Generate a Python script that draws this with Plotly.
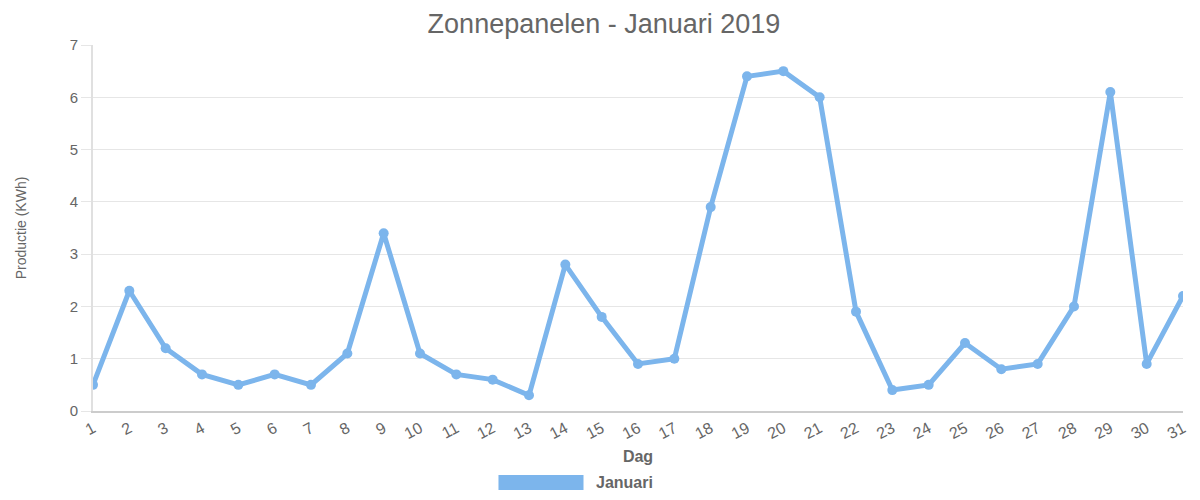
import plotly.graph_objects as go

days = [str(d) for d in range(1, 32)]
production = [0.5, 2.3, 1.2, 0.7, 0.5, 0.7, 0.5, 1.1, 3.4, 1.1,
              0.7, 0.6, 0.3, 2.8, 1.8, 0.9, 1.0, 3.9, 6.4, 6.5,
              6.0, 1.9, 0.4, 0.5, 1.3, 0.8, 0.9, 2.0, 6.1, 0.9, 2.2]
series_name = "Januari"
title_text = "Zonnepanelen - Januari 2019"
x_title = "Dag"
y_title = "Productie (KWh)"

line_color = "rgb(124,181,236)"
text_color = "#666666"
font_family = "Liberation Sans, Arial, sans-serif"

fig = go.Figure()
fig.add_trace(go.Scatter(
    x=days, y=production, mode="lines+markers", name=series_name,
    line=dict(color=line_color, width=5),
    marker=dict(color=line_color, size=10),
    showlegend=False,
))

fig.update_layout(
    width=1192, height=484,
    margin=dict(l=82, r=14, t=37, b=81),
    paper_bgcolor="white", plot_bgcolor="white",
    font=dict(family=font_family, color=text_color, size=14),
    title=dict(text=title_text, x=0.5, xanchor="center", y=0.968, yanchor="middle",
               font=dict(size=27, color=text_color)),
    xaxis=dict(
        type="category", range=[0, 30], tickangle=-28,
        showgrid=False, showline=True, linecolor="#cccccc", linewidth=2,
        ticks="", tickfont=dict(size=16, color=text_color),
        title=dict(text="<b>" + x_title + "</b>", font=dict(size=16, color=text_color), standoff=10),
        zeroline=False,
    ),
    yaxis=dict(
        range=[0, 7], dtick=1, showgrid=True, gridcolor="#e6e6e6", gridwidth=1,
        showline=True, linecolor="#e0e0e0", linewidth=2,
        ticks="outside", ticklen=10, tickcolor="#e6e6e6",
        tickfont=dict(size=15, color=text_color),
        title=dict(text=y_title, font=dict(size=14, color=text_color,
                   family="Liberation Sans Narrow, Liberation Sans, sans-serif"), standoff=40),
        zeroline=False,
    ),
    shapes=[dict(type="rect", xref="paper", yref="paper",
                 x0=0.372, x1=0.450, y0=-0.216, y1=-0.175,
                 fillcolor=line_color, line=dict(width=0))],
    annotations=[dict(text="<b>" + series_name + "</b>", xref="paper", yref="paper",
                      x=0.46, y=-0.195, xanchor="left", yanchor="middle", showarrow=False,
                      font=dict(size=16, color=text_color))],
)

fig.write_html("out.html")
